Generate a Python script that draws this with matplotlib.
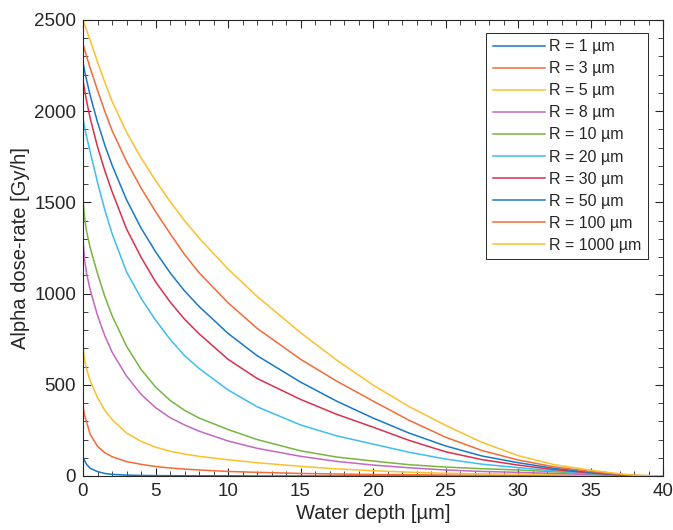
import numpy as np
import matplotlib
matplotlib.use('Agg')
import matplotlib.pyplot as plt
from matplotlib.ticker import MultipleLocator

plt.rcParams['font.family'] = ['Liberation Sans', 'DejaVu Sans']

# water depth [um] where the curves were read
depth = [0, 0.1, 0.25, 0.5, 1, 1.5, 2, 3, 4, 5, 6, 7, 8, 10, 12, 15, 17.5, 20,
         22.5, 25, 27.5, 30, 32.5, 35, 36.5, 38, 40]

# alpha dose-rate [Gy/h] for each particle radius
r1 = [106, 85, 64, 42, 24, 14, 9, 5, 3, 2, 2, 1, 1, 1, 0, 0, 0, 0,
      0, 0, 0, 0, 0, 0, 0, 0, 0]
r3 = [385, 335, 295, 228, 163, 128, 106, 79, 64, 52, 44, 38, 33, 25, 20, 14, 11, 8,
      7, 5, 4, 3, 2, 1, 0.5, 0, 0]
r5 = [712, 640, 585, 520, 430, 360, 310, 236, 190, 158, 136, 120, 108, 89, 73, 53, 39, 29,
      21, 15, 12, 10, 7, 4, 2, 0, 0]
r8 = [1305, 1190, 1110, 1020, 880, 770, 680, 548, 448, 375, 320, 280, 246, 192, 152, 108, 80, 60,
      45, 33, 25, 20, 14, 8, 4, 1, 0]
r10 = [1525, 1420, 1340, 1250, 1110, 985, 880, 712, 585, 488, 415, 360, 318, 255, 200, 138, 104, 82,
       62, 49, 40, 33, 23, 13, 6, 1, 0]
r20 = [1965, 1915, 1860, 1775, 1610, 1460, 1330, 1120, 975, 855, 750, 660, 590, 472, 380, 280, 220, 175,
       130, 93, 65, 46, 28, 14, 7, 1, 0]
r30 = [2170, 2120, 2055, 1960, 1805, 1675, 1560, 1355, 1200, 1065, 955, 860, 780, 640, 535, 420, 338, 268,
       195, 133, 90, 60, 35, 17, 8, 2, 0]
r50 = [2270, 2225, 2170, 2085, 1940, 1815, 1705, 1515, 1360, 1230, 1115, 1015, 930, 782, 660, 515, 410, 318,
       235, 165, 110, 73, 42, 20, 10, 2, 0]
r100 = [2370, 2340, 2300, 2235, 2115, 2000, 1895, 1725, 1580, 1450, 1330, 1215, 1115, 950, 810, 640, 520, 411,
        305, 213, 140, 88, 50, 25, 12, 3, 0]
r1000 = [2500, 2477, 2443, 2388, 2270, 2160, 2055, 1885, 1745, 1620, 1505, 1400, 1305, 1135, 985, 786, 635, 499,
         380, 278, 185, 112, 62, 32, 17, 4, 0]

series = [r1, r3, r5, r8, r10, r20, r30, r50, r100, r1000]
labels = ['R = 1 µm', 'R = 3 µm', 'R = 5 µm', 'R = 8 µm', 'R = 10 µm',
          'R = 20 µm', 'R = 30 µm', 'R = 50 µm', 'R = 100 µm', 'R = 1000 µm']
colors = ['#1878C8', '#F26B38', '#FBC02D', '#C467C0', '#78B440',
          '#3DBDF0', '#D9304C', '#1878C8', '#F26B38', '#FBC02D']

fig = plt.figure(figsize=(6.73, 5.30), dpi=100)
ax = fig.add_axes([83/673, 54/530, 580/673, 456/530])

for y, lab, c in zip(series, labels, colors):
    ax.plot(depth, y, color=c, lw=1.1, label=lab)

ax.set_xlim(0, 40)
ax.set_ylim(0, 2500)
ax.xaxis.set_major_locator(MultipleLocator(5))
ax.xaxis.set_minor_locator(MultipleLocator(1))
ax.yaxis.set_major_locator(MultipleLocator(500))
ax.yaxis.set_minor_locator(MultipleLocator(100))
ax.tick_params(which='both', direction='in', top=True, right=True,
               color='#262626', labelsize=13.5, labelcolor='#262626')
ax.tick_params(which='major', length=6, width=0.8, pad=5)
ax.tick_params(which='minor', length=3.5, width=0.6)
for s in ax.spines.values():
    s.set_color('#262626')
    s.set_linewidth(0.8)

ax.set_xlabel('Water depth [µm]', fontsize=14.5, color='#262626', labelpad=3)
ax.set_ylabel('Alpha dose-rate [Gy/h]', fontsize=14.5, color='#262626', labelpad=3)

leg = ax.legend(loc='upper right', bbox_to_anchor=(0.974, 0.9715), borderaxespad=0,
                fontsize=11.5, fancybox=False, handlelength=3.3, handletextpad=0.25,
                labelspacing=0.44, borderpad=0.4, framealpha=1)
leg.get_frame().set_edgecolor('#262626')
leg.get_frame().set_linewidth(0.7)
for t in leg.get_texts():
    t.set_color('#262626')

fig.savefig('out.png', dpi=100)
